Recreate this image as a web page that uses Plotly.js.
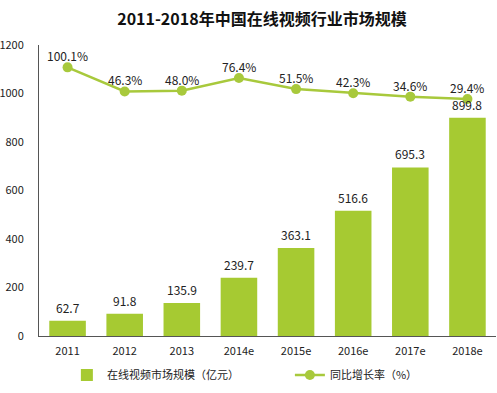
<!DOCTYPE html>
<html>
<head>
<meta charset="utf-8">
<script src="https://cdn.plot.ly/plotly-3.0.1.min.js"></script>
<style>html,body{margin:0;padding:0;background:#fff;}#chart{width:497px;height:393px;}</style>
</head>
<body>
<div id="chart"></div>
<script>
const categories = ["2011","2012","2013","2014e","2015e","2016e","2017e","2018e"];
const marketSize = [62.7, 91.8, 135.9, 239.7, 363.1, 516.6, 695.3, 899.8];
const growthRate = [100.1, 46.3, 48.0, 76.4, 51.5, 42.3, 34.6, 29.4];
const yTicks = [0, 200, 400, 600, 800, 1000, 1200];

const green = "#a6ca32";
const lineGreen = "#a8c93c";
const fontFam = "'Noto Sans CJK SC', 'Noto Sans', sans-serif";

const traces = [
  {
    type: "bar",
    name: "在线视频市场规模（亿元）",
    x: categories,
    y: marketSize,
    marker: {color: green},
    legend: "legend",
    hoverinfo: "none"
  },
  {
    type: "scatter",
    mode: "lines+markers",
    name: "同比增长率（%）",
    x: categories,
    y: growthRate,
    yaxis: "y2",
    legend: "legend2",
    line: {color: lineGreen, width: 2.5},
    marker: {color: lineGreen, size: 10},
    cliponaxis: false,
    hoverinfo: "none"
  }
];

const annotations = [];
categories.forEach((c, i) => {
  annotations.push({
    x: i, y: marketSize[i], xref: "x", yref: "y",
    text: marketSize[i].toFixed(1), showarrow: false,
    yanchor: "bottom", yshift: 3,
    font: {family: fontFam, size: 12, color: "#222"}
  });
  annotations.push({
    x: i, y: growthRate[i], xref: "x", yref: "y2",
    text: growthRate[i].toFixed(1) + "%", showarrow: false,
    yanchor: "bottom", yshift: 1,
    font: {family: fontFam, size: 12, color: "#222"}
  });
});

const legendCommon = {
  orientation: "v",
  y: -0.134, yanchor: "middle",
  font: {family: fontFam, size: 11, color: "#222"},
  itemwidth: 30,
  bgcolor: "rgba(0,0,0,0)",
  borderwidth: 0
};

const layout = {
  width: 497, height: 393,
  margin: {l: 39, r: 1, t: 45, b: 57},
  paper_bgcolor: "#fff", plot_bgcolor: "#fff",
  font: {family: fontFam, size: 11, color: "#222"},
  title: {
    text: "<b>2011-2018年中国在线视频行业市场规模</b>",
    font: {family: fontFam, size: 16, color: "#111"},
    x: 0.527, xref: "container", xanchor: "center",
    y: 0.95, yref: "container", yanchor: "middle"
  },
  bargap: 0.36,
  showlegend: true,
  legend: Object.assign({}, legendCommon, {x: 0.061, xanchor: "left"}),
  legend2: Object.assign({}, legendCommon, {x: 0.549, xanchor: "left"}),
  xaxis: {
    type: "category",
    categoryarray: categories, categoryorder: "array",
    range: [-0.5, categories.length - 0.5],
    showline: true, linecolor: "#555", linewidth: 1,
    ticks: "", showgrid: false,
    tickfont: {family: fontFam, size: 11, color: "#222"},
    ticklabelstandoff: 5,
    fixedrange: true
  },
  yaxis: {
    range: [0, 1200],
    tickvals: yTicks,
    ticktext: yTicks.map(String),
    showline: true, linecolor: "#555", linewidth: 1,
    showgrid: false, zeroline: false,
    ticks: "",
    ticklabelstandoff: 12,
    tickfont: {family: fontFam, size: 11, color: "#222"},
    fixedrange: true
  },
  yaxis2: {
    overlaying: "y", side: "right",
    range: [-500, 150],
    visible: false, showgrid: false, zeroline: false,
    fixedrange: true
  },
  annotations: annotations
};

Plotly.newPlot("chart", traces, layout, {displayModeBar: false, staticPlot: true});
</script>
</body>
</html>
